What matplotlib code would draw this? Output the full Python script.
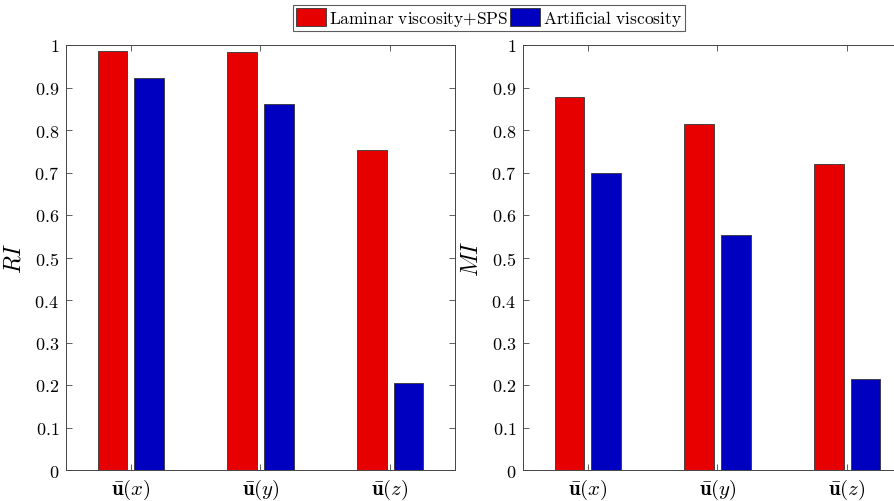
import matplotlib
matplotlib.use("Agg")
import matplotlib.pyplot as plt
import numpy as np

plt.rcParams['mathtext.fontset'] = 'cm'
plt.rcParams['font.family'] = 'serif'
plt.rcParams['font.serif'] = ['cmr10', 'DejaVu Serif']
plt.rcParams['axes.unicode_minus'] = False

# data
cats = [r'$\bar{\mathbf{u}}(x)$', r'$\bar{\mathbf{u}}(y)$', r'$\bar{\mathbf{u}}(z)$']
ri_sps = [0.986, 0.984, 0.752]
ri_art = [0.922, 0.861, 0.205]
mi_sps = [0.878, 0.813, 0.721]
mi_art = [0.700, 0.554, 0.213]
yticks = np.round(np.arange(0, 1.01, 0.1), 1)
names = [r'$\mathrm{Laminar\ viscosity{+}SPS}$', r'$\mathrm{Artificial\ viscosity}$']

red = '#e60000'
blue = '#0000c0'

fig = plt.figure(figsize=(8.95, 5.02), dpi=100)
W, H = 895, 502
ax1 = fig.add_axes([66 / W, 1 - 471 / H, 389 / W, 425 / H])
ax2 = fig.add_axes([523 / W, 1 - 471 / H, 389 / W, 425 / H])

x = np.arange(1, 4)
off = 0.142
bw = 0.23

def draw(ax, a, b, ylab):
    ax.bar(x - off, a, bw, color=red, edgecolor='#333333', linewidth=0.6)
    ax.bar(x + off, b, bw, color=blue, edgecolor='#333333', linewidth=0.6)
    ax.set_xlim(0.5, 3.5)
    ax.set_ylim(0, 1)
    ax.set_xticks(x)
    ax.set_xticklabels(cats, fontsize=15)
    ax.set_yticks(yticks)
    ax.set_yticklabels(['$%g$' % v for v in yticks], fontsize=13)
    ax.tick_params(direction='in', top=True, right=True, length=4, width=0.6, color='#444444', pad=5)
    for s in ax.spines.values():
        s.set_linewidth(0.7)
        s.set_color('#444444')
    ax.set_ylabel(ylab, fontsize=17, labelpad=6)

draw(ax1, ri_sps, ri_art, r'$RI$')
draw(ax2, mi_sps, mi_art, r'$MI$')

from matplotlib.patches import Patch
handles = [Patch(facecolor=red, edgecolor='#333333', linewidth=0.6),
           Patch(facecolor=blue, edgecolor='#333333', linewidth=0.6)]
leg = fig.legend(handles, names, loc='center', bbox_to_anchor=(489 / W, 1 - 19 / H), ncol=2,
                 fontsize=12.5, frameon=True, fancybox=False, edgecolor='#333333',
                 handlelength=1.7, handleheight=1.2, handletextpad=0.15, columnspacing=0.15,
                 borderpad=0.2, borderaxespad=0)
leg.get_frame().set_linewidth(0.8)

fig.savefig('out.png', dpi=100)
